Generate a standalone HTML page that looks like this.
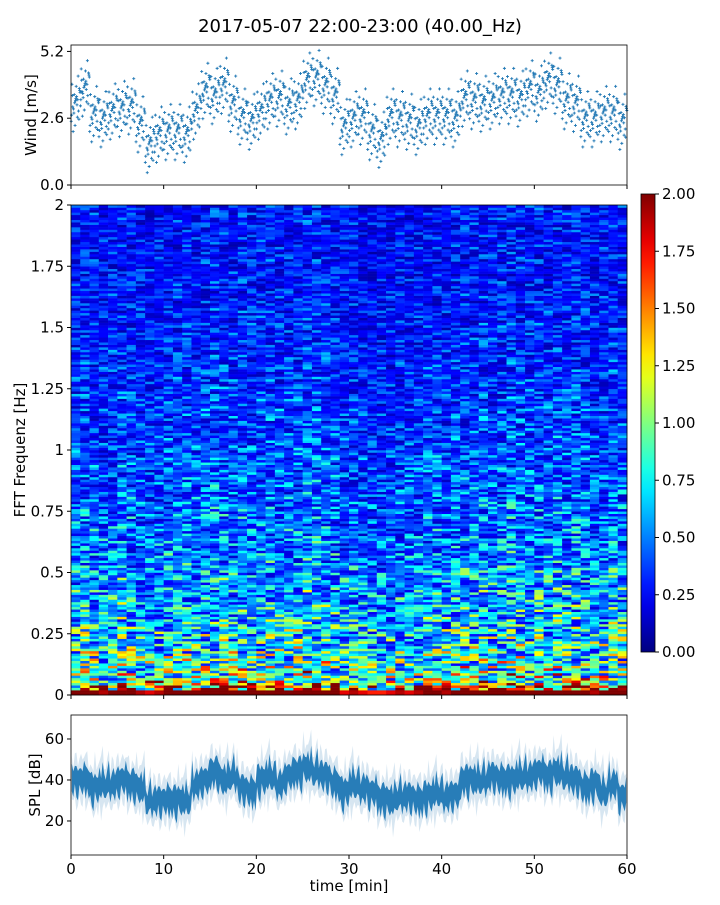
<!DOCTYPE html>
<html><head><meta charset="utf-8"><style>
body{margin:0;background:#fff;}
svg text{font-family:"DejaVu Sans","Liberation Sans",sans-serif;fill:#000;}
</style></head><body>
<svg id="fig" width="720" height="900" viewBox="0 0 720 900" xmlns="http://www.w3.org/2000/svg">
<rect width="720" height="900" fill="#fff"/>
<text x="360" y="32" font-size="18" text-anchor="middle">2017-05-07 22:00-23:00 (40.00_Hz)</text>
<g id="wind"></g>
<g id="spec"></g>
<g id="cbar"></g>
<g id="spl"></g>
</svg>
<script>
const minutes=[...Array(60).keys()];
const windMean=[3.2,3.8,2.8,2.6,2.9,3.0,3.1,2.4,1.6,2.0,2.1,2.1,2.0,2.9,3.7,3.5,3.9,3.2,2.7,2.5,2.9,3.3,3.4,3.1,3.3,4.1,4.2,3.9,3.5,2.3,2.6,2.7,2.1,1.8,2.7,2.6,2.5,2.3,2.7,2.7,2.7,2.6,3.4,3.3,3.2,3.3,3.5,3.5,3.4,3.8,3.6,4.1,3.9,3.3,3.2,2.6,2.6,2.8,2.8,2.5];
const windOffsets=[-0.9,-0.5,0.3,0.7,-0.2,0.1,1.3,-0.6,0.4,-0.1,0.6,-1.4,0.2,-0.4,0.9,0.0,-0.7,0.5,-0.3,0.8,-0.8,0.35,-1.1,0.15];
const windTicks=[0.0,2.6,5.2];
const splMean=[40,40,36,38,38,40,38,36,30,30,30,30,30,38,40,44,40,42,36,34,40,42,38,42,44,46,44,42,38,34,38,36,34,31,30,32,32,30,32,34,32,33,40,40,40,42,40,40,42,42,44,42,44,42,40,36,38,34,38,32];
const splNoise=[3,-5,6,-2,-7,4,1,-4,8,-3,2,-6,5,-1,-8,7,0,-3,4,-5,9,-2,-6,3,10,-9,1];
const splTicks=[20,40,60];
const xTicks=[0,10,20,30,40,50,60];
const freqTicks=[0,0.25,0.5,0.75,1,1.25,1.5,1.75,2];
const freqTickLabels=["0","0.25","0.5","0.75","1","1.25","1.5","1.75","2"];
const cbarTicks=["0.00","0.25","0.50","0.75","1.00","1.25","1.50","1.75","2.00"];
const rowLevel=[2.0,1.6,1.15,1.0,0.95,0.9,0.85,0.8,0.82,0.78,0.75,0.72,0.7,0.72,0.68,0.66,0.62,0.6,0.64,0.6,0.58,0.6,0.56,0.58,0.55,0.54,0.52,0.5,0.53,0.5,0.48,0.5,0.47,0.49,0.46,0.45,0.47,0.44,0.45,0.43,0.44,0.42,0.43,0.41,0.42,0.4,0.41,0.4,0.42,0.39,0.4,0.38,0.4,0.37,0.38,0.36,0.37,0.36,0.38,0.35,0.36,0.34,0.35,0.33,0.35,0.32,0.34,0.33,0.32,0.31,0.33,0.3,0.32,0.31,0.3,0.32,0.29,0.3,0.31,0.3,0.29,0.3,0.28,0.3,0.29,0.28,0.3,0.27,0.29,0.28,0.27,0.29,0.28,0.27,0.28,0.27,0.29,0.28,0.3,0.29];
const colGain=[1.0,1.05,1.0,0.95,1.0,1.05,1.0,0.95,0.9,0.95,1.0,1.0,1.05,1.0,1.05,1.1,1.05,1.0,1.05,1.0,1.05,1.1,1.05,1.0,1.05,1.1,1.1,1.05,1.0,0.9,0.95,0.9,0.85,0.85,0.9,0.95,0.9,0.95,1.0,1.0,0.95,1.0,1.05,1.0,1.05,1.0,1.05,1.1,1.05,1.0,1.05,1.0,1.05,1.0,1.05,1.0,0.95,1.0,1.05,1.0];
const texture=[0.5,1.35,0.8,1.65,0.4,1.0,1.9,0.7,1.2,0.3,1.5,0.9,1.1,0.6,1.75,0.8,1.0,0.55,1.25,0.35,0.95,1.45,0.65,1.05,0.45,1.6,0.75,1.15,0.85];

const NS="http://www.w3.org/2000/svg";
function el(tag,attrs,parent){const e=document.createElementNS(NS,tag);for(const k in attrs)e.setAttribute(k,attrs[k]);parent.appendChild(e);return e;}
function pick(a,b){let h=Math.imul(a,0x9E3779B1)^Math.imul(b+17,0x85EBCA6B);h^=h>>>15;h=Math.imul(h,0xC2B2AE35);h^=h>>>13;return (h>>>0)%texture.length;}
const X0=71,X1=627;
const xs=m=>X0+(m/60)*(X1-X0);
function jet(v){v=Math.max(0,Math.min(1,v));const f=t=>Math.max(0,Math.min(1,1.5-Math.abs(4*v-t)));return `rgb(${Math.round(f(3)*255)},${Math.round(f(2)*255)},${Math.round(f(1)*255)})`;}

// Wind panel
const wG=document.getElementById('wind');
const wT=45,wB=185,wMax=5.45;
const wy=v=>wB-(v/wMax)*(wB-wT);
let d="";
minutes.forEach((m,i)=>{windOffsets.forEach((o,j)=>{const x=xs(m+((j*7)%windOffsets.length+0.5)/windOffsets.length);const y=wy(windMean[i]+o*0.8);d+=`M${x-1.5},${y}h3M${x},${y-1.5}v3`;});});
const wp=el('path',{d:d,stroke:'#1f77b4','stroke-width':0.9,fill:'none'},wG);


const wf=el('rect',{x:X0,y:wT,width:X1-X0,height:wB-wT,fill:'none',stroke:'#000','stroke-width':0.8},wG);


windTicks.forEach(t=>{const y=wy(t);el('line',{x1:X0-4,x2:X0,y1:y,y2:y,stroke:'#000'},wG);const tx=el('text',{x:X0-7,y:y+5,'font-size':15,'text-anchor':'end'},wG);tx.textContent=t.toFixed(1);

});
xTicks.forEach(t=>{el('line',{x1:xs(t),x2:xs(t),y1:wB,y2:wB+4,stroke:'#000'},wG);});
const wl=el('text',{x:0,y:0,'font-size':15,'text-anchor':'middle',transform:`translate(36,${(wT+wB)/2}) rotate(-90)`},wG);wl.textContent="Wind [m/s]";



// Spectrogram
const sG=document.getElementById('spec');
const sT=205,sB=695,fMax=2;
const fy=f=>sB-(f/fMax)*(sB-sT);
const nR=rowLevel.length,df=fMax/nR;
for(let c=0;c<colGain.length;c++){for(let r=0;r<nR;r++){for(let s=0;s<2;s++){
 const sub=r*2+s;
 const v=rowLevel[r]*colGain[c]*(r<1?1:texture[pick(sub,c)]);
 const y1=fy((r+(s+1)/2)*df),y0=fy((r+s/2)*df);
 const rc=el('rect',{x:xs(c),y:y1,width:xs(c+1)-xs(c)+0.3,height:y0-y1+0.3,fill:jet(v/2)},sG);
 
 
}}}
const sf=el('rect',{x:X0,y:sT,width:X1-X0,height:sB-sT,fill:'none',stroke:'#000','stroke-width':0.8},sG);


freqTicks.forEach((t,i)=>{const y=fy(t);el('line',{x1:X0-4,x2:X0,y1:y,y2:y,stroke:'#000'},sG);const tx=el('text',{x:X0-7,y:y+5,'font-size':15,'text-anchor':'end'},sG);tx.textContent=freqTickLabels[i];

});
xTicks.forEach(t=>{el('line',{x1:xs(t),x2:xs(t),y1:sB,y2:sB+4,stroke:'#000'},sG);});
const sl=el('text',{x:0,y:0,'font-size':15,'text-anchor':'middle',transform:`translate(25,${(sT+sB)/2}) rotate(-90)`},sG);sl.textContent="FFT Frequenz [Hz]";



// Colorbar
const cG=document.getElementById('cbar');
const cT=194,cB=652,cX=641,cW=14;
const defs=el('defs',{},cG);const gr=el('linearGradient',{id:'jetg',x1:0,y1:1,x2:0,y2:0},defs);
for(let i=0;i<=20;i++){el('stop',{offset:i/20,'stop-color':jet(i/20)},gr);}
const cr=el('rect',{x:cX,y:cT,width:cW,height:cB-cT,fill:'url(#jetg)',stroke:'#000','stroke-width':0.8},cG);


cbarTicks.forEach((t,i)=>{const y=cB-(i/(cbarTicks.length-1))*(cB-cT);el('line',{x1:cX+cW,x2:cX+cW+4,y1:y,y2:y,stroke:'#000'},cG);const tx=el('text',{x:cX+cW+7,y:y+5,'font-size':15},cG);tx.textContent=t;

});

// SPL panel
const pG=document.getElementById('spl');
const pT=715,pB=855,pMin=3.4,pMax=71.7;
const py=v=>pB-((v-pMin)/(pMax-pMin))*(pB-pT);
function band(scale,extra,shift){let up="",lo=[];minutes.forEach((m,i)=>{for(let k=0;k<6;k++){const n=splNoise[(i*6+k)%splNoise.length];const n2=splNoise[(i*6+k+shift)%splNoise.length];const x=xs(m+k/6+1/12);up+=(up?"L":"M")+x+","+py(splMean[i]+n*0.4+scale+Math.abs(n2)*extra);lo.push(x+","+py(splMean[i]+n*0.4-scale-Math.abs(n2)*extra));}});return up+"L"+lo.reverse().join("L")+"Z";}
const pl=el('path',{d:band(7,0.9,5),fill:'#1f77b4','fill-opacity':0.18},pG);


const pd=el('path',{d:band(4,0.45,11),fill:'#1f77b4','fill-opacity':0.95},pG);


const pf=el('rect',{x:X0,y:pT,width:X1-X0,height:pB-pT,fill:'none',stroke:'#000','stroke-width':0.8},pG);


splTicks.forEach(t=>{const y=py(t);el('line',{x1:X0-4,x2:X0,y1:y,y2:y,stroke:'#000'},pG);const tx=el('text',{x:X0-7,y:y+5,'font-size':15,'text-anchor':'end'},pG);tx.textContent=t;

});
xTicks.forEach(t=>{el('line',{x1:xs(t),x2:xs(t),y1:pB,y2:pB+4,stroke:'#000'},pG);const tx=el('text',{x:xs(t),y:pB+19,'font-size':15,'text-anchor':'middle'},pG);tx.textContent=t;

});
const pl2=el('text',{x:0,y:0,'font-size':15,'text-anchor':'middle',transform:`translate(40,${(pT+pB)/2}) rotate(-90)`},pG);pl2.textContent="SPL [dB]";


const xl=el('text',{x:(X0+X1)/2,y:891,'font-size':15,'text-anchor':'middle'},pG);xl.textContent="time [min]";


</script>
</body></html>
